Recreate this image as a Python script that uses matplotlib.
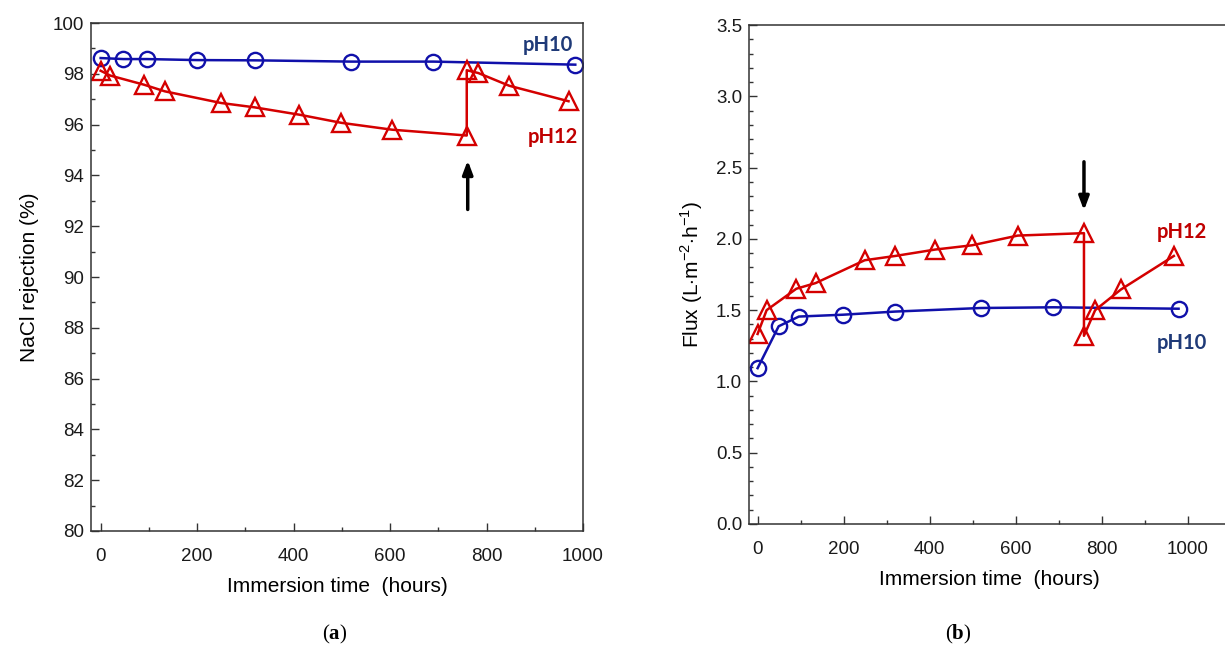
import matplotlib
matplotlib.use('Agg')
import matplotlib.pyplot as plt
from matplotlib.ticker import MultipleLocator

# panel (a): NaCl rejection (%)
t_ph10_a = [0, 47, 96, 200, 320, 520, 690, 984]
rej_ph10 = [98.62, 98.58, 98.58, 98.54, 98.53, 98.48, 98.48, 98.36]
t_ph12_a = [0, 20, 90, 133, 250, 319, 412, 499, 604, 759, 759, 783, 847, 970]
rej_ph12 = [98.12, 97.93, 97.57, 97.31, 96.85, 96.68, 96.39, 96.07, 95.80, 95.57,
            98.14, 98.03, 97.53, 96.92]

# panel (b): flux (L m-2 h-1)
t_ph10_b = [0, 49, 96, 199, 320, 519, 688, 979]
flux_ph10 = [1.093, 1.387, 1.455, 1.468, 1.49, 1.515, 1.52, 1.51]
t_ph12_b = [0, 21, 90, 135, 249, 320, 413, 499, 605, 759, 759, 785, 845, 968]
flux_ph12 = [1.333, 1.50, 1.65, 1.69, 1.85, 1.88, 1.925, 1.955, 2.023, 2.04,
             1.32, 1.50, 1.645, 1.88]

BLUE = '#1010aa'
RED = '#d40000'
NAVY = '#1f3a78'
DRED = '#c00000'

plt.rcParams['font.family'] = ['Liberation Sans', 'DejaVu Sans']
plt.rcParams['mathtext.fontset'] = 'custom'
plt.rcParams['mathtext.rm'] = 'Liberation Sans'
plt.rcParams['mathtext.bf'] = 'Liberation Serif:bold'

W, H = 1225, 646
fig = plt.figure(figsize=(W / 100, H / 100), dpi=100)

ax1 = fig.add_axes([91 / W, (H - 531) / H, (583 - 91) / W, (531 - 23) / H])
ax2 = fig.add_axes([749 / W, (H - 524) / H, 1120 * 0.43 / W, (524 - 25) / H])


def style(ax):
    for s in ax.spines.values():
        s.set_color('#333333')
        s.set_linewidth(1.1)
    ax.tick_params(which='both', direction='in', colors='#333333',
                   labelcolor='#1a1a1a', labelsize=13.5, width=1.0)
    ax.tick_params(which='major', length=6)
    ax.tick_params(which='minor', length=3)
    ax.tick_params(axis='x', pad=12)
    ax.tick_params(axis='y', pad=5)
    ax.xaxis.set_major_locator(MultipleLocator(200))
    ax.xaxis.set_minor_locator(MultipleLocator(100))
    ax.set_xlabel('Immersion time  (hours)', fontsize=15, labelpad=9)


mk_o = dict(markersize=11, markeredgewidth=1.7, markerfacecolor='none', linewidth=1.8)
mk_t = dict(markersize=12.5, markeredgewidth=1.7, markerfacecolor='none', linewidth=1.8)

# (a)
ax1.plot(t_ph10_a, rej_ph10, '-o', color=BLUE, **mk_o)
ax1.plot(t_ph12_a, rej_ph12, '-^', color=RED, **mk_t)
ax1.set_xlim(-20, 1000)
ax1.set_ylim(80, 100)
style(ax1)
ax1.yaxis.set_major_locator(MultipleLocator(2))
ax1.yaxis.set_minor_locator(MultipleLocator(1))
ax1.set_ylabel('NaCl rejection (%)', fontsize=15, labelpad=10)
ax1.text(927, 99.13, 'pH10', color=NAVY, fontsize=14.5, fontweight='bold',
         family='Lato', ha='center', va='center')
ax1.text(937, 95.51, 'pH12', color=DRED, fontsize=14.5, fontweight='bold',
         family='Lato', ha='center', va='center')
ax1.annotate('', xy=(761, 94.7), xytext=(761, 92.55),
             arrowprops=dict(arrowstyle='-|>,head_length=0.8,head_width=0.3',
                             color='black', lw=2.5))

# (b)
ax2.plot(t_ph10_b, flux_ph10, '-o', color=BLUE, **mk_o)
ax2.plot(t_ph12_b, flux_ph12, '-^', color=RED, **mk_t)
ax2.set_xlim(-20, 1100)
ax2.set_ylim(0, 3.5)
style(ax2)
ax2.yaxis.set_major_locator(MultipleLocator(0.5))
ax2.yaxis.set_minor_locator(MultipleLocator(0.1))
ax2.yaxis.set_major_formatter(matplotlib.ticker.FormatStrFormatter('%.1f'))
ax2.set_xticks([0, 200, 400, 600, 800, 1000])
ax2.set_ylabel(r'Flux (L$\cdot$m$^{-2}$$\cdot$h$^{-1}$)', fontsize=15, labelpad=8)
ax2.text(986, 2.05, 'pH12', color=DRED, fontsize=14.5, fontweight='bold',
         family='Lato', ha='center', va='center')
ax2.text(986, 1.27, 'pH10', color=NAVY, fontsize=14.5, fontweight='bold',
         family='Lato', ha='center', va='center')
ax2.annotate('', xy=(759, 2.18), xytext=(759, 2.56),
             arrowprops=dict(arrowstyle='-|>,head_length=0.8,head_width=0.3',
                             color='black', lw=2.5))

# captions
fig.text(335 / W, 1 - 634 / H, r'($\mathbf{a}$)', fontsize=15, family='Liberation Serif',
         ha='center', va='center')
fig.text(958 / W, 1 - 634 / H, r'($\mathbf{b}$)', fontsize=15, family='Liberation Serif',
         ha='center', va='center')

fig.savefig('out.png', dpi=100)
